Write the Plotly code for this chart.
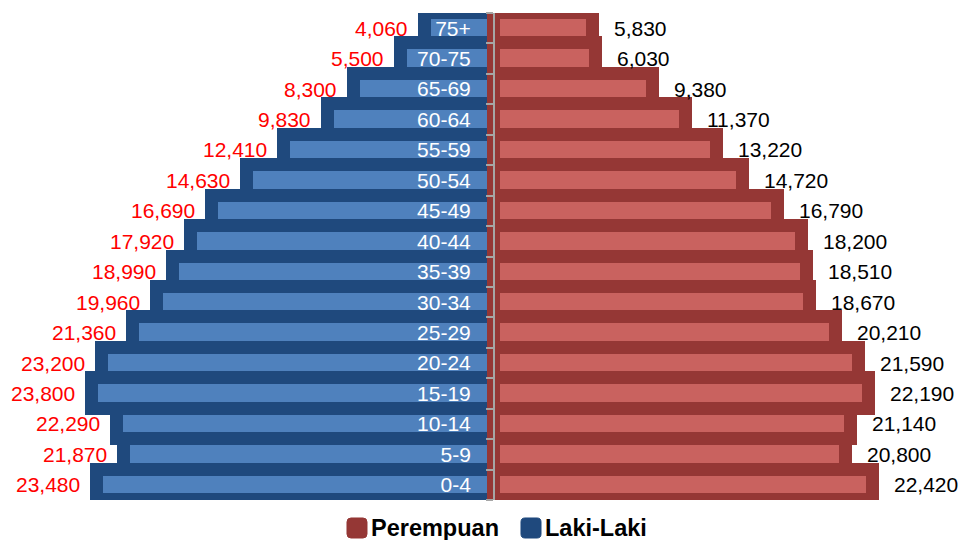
import plotly.graph_objects as go

# ---------------------------------------------------------------------------
# Data
# ---------------------------------------------------------------------------

AGES = ["0-4", "5-9", "10-14", "15-19", "20-24", "25-29", "30-34", "35-39",
        "40-44", "45-49", "50-54", "55-59", "60-64", "65-69", "70-75", "75+"]
LAKI = [23480, 21870, 22290, 23800, 23200, 21360, 19960, 18990,
        17920, 16690, 14630, 12410, 9830, 8300, 5500, 4060]
PEREMPUAN = [22420, 20800, 21140, 22190, 21590, 20210, 18670, 18510,
             18200, 16790, 14720, 13220, 11370, 9380, 6030, 5830]
LEGEND = ["Perempuan", "Laki-Laki"]

# ---------------------------------------------------------------------------
# Style
# ---------------------------------------------------------------------------

BLUE_FILL = "#4F81BD"
BLUE_EDGE = "#1F497D"
RED_FILL = "#C9625F"
RED_EDGE = "#953735"
AXIS_GREY = "#A6A6A6"
FONT = "Liberation Sans, Arial, sans-serif"

W, H = 961, 540
M_T, M_B = 13, 40
PLOT_H = H - M_T - M_B
X_MIN, X_MAX = -29230, 27630

fig = go.Figure()

fig.add_trace(go.Bar(
    y=AGES, x=[-v for v in LAKI], orientation="h",
    marker=dict(color=BLUE_FILL, line=dict(color=BLUE_EDGE, width=13)),
    showlegend=False, name="Laki-Laki",
    hovertemplate="%{y}: %{customdata:,}<extra>Laki-Laki</extra>", customdata=LAKI,
))
fig.add_trace(go.Bar(
    y=AGES, x=PEREMPUAN, orientation="h",
    marker=dict(color=RED_FILL, line=dict(color=RED_EDGE, width=13)),
    showlegend=False, name="Perempuan",
    hovertemplate="%{y}: %{x:,}<extra>Perempuan</extra>",
))

# value labels
ann = []
for age, v in zip(AGES, LAKI):
    ann.append(dict(x=-v, y=age, text=f"{v:,}", xanchor="right", xshift=-15,
                    showarrow=False, font=dict(family=FONT, size=21, color="#FF0000")))
for age, v in zip(AGES, PEREMPUAN):
    ann.append(dict(x=v, y=age, text=f"{v:,}", xanchor="left", xshift=19,
                    showarrow=False, font=dict(family=FONT, size=21, color="#000000")))


# hand-made legend (plotly's legend would push the bottom margin)
def rounded_box(x0, y0, size, r):
    # pixel box -> paper coords path with rounded corners
    def px(x, y):
        return f"{x / W:.5f},{(H - M_B - y) / PLOT_H:.5f}"
    x1, y1 = x0 + size, y0 + size
    return (f"M{px(x0 + r, y0)} L{px(x1 - r, y0)} Q{px(x1, y0)} {px(x1, y0 + r)} "
            f"L{px(x1, y1 - r)} Q{px(x1, y1)} {px(x1 - r, y1)} "
            f"L{px(x0 + r, y1)} Q{px(x0, y1)} {px(x0, y1 - r)} "
            f"L{px(x0, y0 + r)} Q{px(x0, y0)} {px(x0 + r, y0)} Z")


shapes = []
legend_y = (H - M_B - 528) / PLOT_H
for name, col, box_x in zip(LEGEND, [RED_EDGE, BLUE_EDGE], [347, 521]):
    shapes.append(dict(type="path", xref="paper", yref="paper",
                       path=rounded_box(box_x, 518, 20, 4),
                       fillcolor=col, line=dict(color=col, width=1)))
    ann.append(dict(x=(box_x + 22) / W, y=legend_y, xref="paper", yref="paper",
                    text=f"<b>{name}</b>", xanchor="left", yanchor="middle",
                    showarrow=False, font=dict(family=FONT, size=23.5, color="black")))

fig.update_layout(
    width=W, height=H,
    margin=dict(l=0, r=0, t=M_T, b=M_B),
    paper_bgcolor="white", plot_bgcolor="white",
    barmode="overlay", bargap=0,
    font=dict(family=FONT, size=21, color="black"),
    annotations=ann, shapes=shapes,
    showlegend=False,
    xaxis=dict(range=[X_MIN, X_MAX], visible=False, fixedrange=True),
    yaxis=dict(
        type="category", range=[-0.5, len(AGES) - 0.5],
        anchor="free", position=-X_MIN / (X_MAX - X_MIN),
        showline=True, linecolor=AXIS_GREY, linewidth=2,
        ticks="outside", ticklen=7, tickcolor=AXIS_GREY, tickwidth=1.5,
        tickson="boundaries", ticklabelstandoff=18,
        tickfont=dict(family=FONT, size=21, color="white"),
        showgrid=False, zeroline=False, layer="above traces",
    ),
)

# page has a default body margin; drop it so the chart sits at the corner
fig.write_html("out.html", config={"displayModeBar": False},
               post_script="document.body.style.margin='0';")
